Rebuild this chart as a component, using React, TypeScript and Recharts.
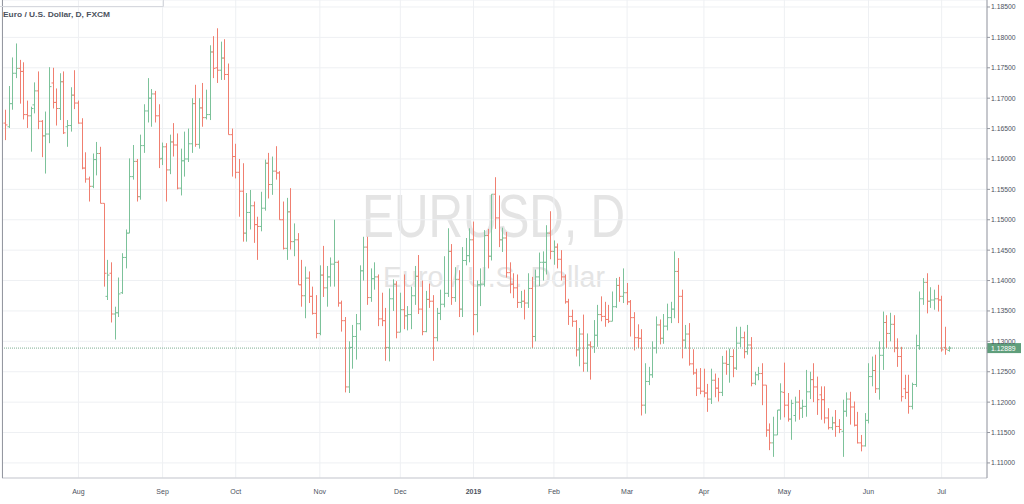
import React from 'react';
import { ComposedChart, Bar, XAxis, YAxis, CartesianGrid, ReferenceLine } from 'recharts';

// EUR/USD daily bars (FXCM), one array per month: [open, high, low, close]
const jul2018 = [
  [1.1659, 1.1681, 1.1631, 1.1656], [1.1653, 1.1720, 1.1651, 1.1691], [1.1691, 1.1767, 1.1681, 1.1741],
  [1.1741, 1.1790, 1.1733, 1.1749], [1.1749, 1.1763, 1.1691, 1.1744], [1.1744, 1.1759, 1.1665, 1.1673],
  [1.1673, 1.1696, 1.1651, 1.1671], [1.1671, 1.1686, 1.1612, 1.1683], [1.1689, 1.1726, 1.1675, 1.1712],
  [1.1712, 1.1744, 1.1649, 1.1662], [1.1662, 1.1664, 1.1603, 1.1638], [1.1638, 1.1678, 1.1576, 1.1641],
  [1.1641, 1.1751, 1.1626, 1.1719], [1.1725, 1.1750, 1.1683, 1.1693], [1.1693, 1.1716, 1.1655, 1.1683],
  [1.1683, 1.1741, 1.1664, 1.1727], [1.1727, 1.1744, 1.1641, 1.1643], [1.1653, 1.1664, 1.1620, 1.1655],
  [1.1655, 1.1718, 1.1645, 1.1705], [1.1705, 1.1746, 1.1682, 1.1692],
];
const aug2018 = [
  [1.1692, 1.1696, 1.1658, 1.1659], [1.1659, 1.1667, 1.1583, 1.1585], [1.1585, 1.1611, 1.1561, 1.1567],
  [1.1567, 1.1571, 1.1530, 1.1555], [1.1555, 1.1609, 1.1552, 1.1599], [1.1599, 1.1628, 1.1573, 1.1609],
  [1.1609, 1.1620, 1.1527, 1.1527], [1.1527, 1.1527, 1.1390, 1.1412], [1.1374, 1.1434, 1.1368, 1.1409],
  [1.1412, 1.1430, 1.1331, 1.1345], [1.1345, 1.1357, 1.1303, 1.1347], [1.1347, 1.1405, 1.1340, 1.1378],
  [1.1380, 1.1445, 1.1378, 1.1438], [1.1438, 1.1484, 1.1420, 1.1478], [1.1478, 1.1601, 1.1478, 1.1571],
  [1.1571, 1.1623, 1.1566, 1.1596], [1.1596, 1.1600, 1.1530, 1.1538], [1.1538, 1.1640, 1.1533, 1.1622],
  [1.1622, 1.1690, 1.1610, 1.1679], [1.1679, 1.1733, 1.1660, 1.1700], [1.1700, 1.1715, 1.1653, 1.1707],
  [1.1707, 1.1712, 1.1660, 1.1671], [1.1671, 1.1690, 1.1585, 1.1600],
];
const sep2018 = [
  [1.1601, 1.1627, 1.1590, 1.1620], [1.1620, 1.1626, 1.1530, 1.1582], [1.1582, 1.1640, 1.1575, 1.1628],
  [1.1628, 1.1659, 1.1604, 1.1623], [1.1623, 1.1642, 1.1550, 1.1552], [1.1552, 1.1617, 1.1540, 1.1597],
  [1.1597, 1.1645, 1.1571, 1.1600], [1.1600, 1.1650, 1.1595, 1.1625], [1.1625, 1.1700, 1.1610, 1.1691],
  [1.1691, 1.1722, 1.1620, 1.1624], [1.1624, 1.1700, 1.1617, 1.1684], [1.1684, 1.1725, 1.1653, 1.1668],
  [1.1668, 1.1714, 1.1665, 1.1673], [1.1673, 1.1787, 1.1664, 1.1776], [1.1776, 1.1802, 1.1733, 1.1749],
  [1.1750, 1.1815, 1.1725, 1.1746], [1.1746, 1.1793, 1.1730, 1.1766], [1.1766, 1.1797, 1.1730, 1.1739],
  [1.1739, 1.1757, 1.1640, 1.1640], [1.1640, 1.1650, 1.1571, 1.1604],
];
const oct2018 = [
  [1.1604, 1.1625, 1.1568, 1.1578], [1.1578, 1.1600, 1.1505, 1.1547], [1.1547, 1.1593, 1.1464, 1.1478],
  [1.1478, 1.1544, 1.1464, 1.1512], [1.1512, 1.1549, 1.1484, 1.1523], [1.1523, 1.1530, 1.1462, 1.1492],
  [1.1492, 1.1505, 1.1434, 1.1489], [1.1489, 1.1546, 1.1481, 1.1519], [1.1519, 1.1599, 1.1515, 1.1593],
  [1.1593, 1.1610, 1.1535, 1.1558], [1.1558, 1.1604, 1.1541, 1.1580], [1.1580, 1.1621, 1.1566, 1.1577],
  [1.1577, 1.1580, 1.1500, 1.1500], [1.1500, 1.1530, 1.1451, 1.1453], [1.1453, 1.1536, 1.1434, 1.1513],
  [1.1513, 1.1552, 1.1451, 1.1464], [1.1464, 1.1494, 1.1440, 1.1467], [1.1467, 1.1478, 1.1393, 1.1393],
  [1.1393, 1.1434, 1.1357, 1.1375], [1.1375, 1.1423, 1.1338, 1.1404], [1.1404, 1.1415, 1.1363, 1.1374],
  [1.1374, 1.1390, 1.1344, 1.1346], [1.1346, 1.1376, 1.1305, 1.1313],
];
const nov2018 = [
  [1.1313, 1.1425, 1.1310, 1.1409], [1.1409, 1.1457, 1.1373, 1.1388], [1.1388, 1.1424, 1.1357, 1.1406],
  [1.1406, 1.1438, 1.1390, 1.1427], [1.1427, 1.1500, 1.1390, 1.1430], [1.1430, 1.1433, 1.1357, 1.1363],
  [1.1363, 1.1367, 1.1316, 1.1334], [1.1334, 1.1340, 1.1216, 1.1225], [1.1225, 1.1300, 1.1215, 1.1290],
  [1.1290, 1.1327, 1.1255, 1.1308], [1.1308, 1.1345, 1.1270, 1.1329], [1.1329, 1.1425, 1.1318, 1.1416],
  [1.1416, 1.1472, 1.1400, 1.1455], [1.1455, 1.1472, 1.1360, 1.1372], [1.1372, 1.1420, 1.1365, 1.1403],
  [1.1403, 1.1430, 1.1385, 1.1406], [1.1406, 1.1410, 1.1325, 1.1337], [1.1337, 1.1380, 1.1325, 1.1334],
  [1.1334, 1.1355, 1.1268, 1.1290], [1.1290, 1.1387, 1.1267, 1.1370], [1.1370, 1.1402, 1.1350, 1.1394],
  [1.1394, 1.1399, 1.1305, 1.1315],
];
const dec2018 = [
  [1.1315, 1.1380, 1.1315, 1.1352], [1.1352, 1.1410, 1.1320, 1.1342], [1.1342, 1.1358, 1.1318, 1.1344],
  [1.1344, 1.1390, 1.1320, 1.1375], [1.1375, 1.1424, 1.1360, 1.1407], [1.1407, 1.1442, 1.1345, 1.1353],
  [1.1353, 1.1400, 1.1310, 1.1316], [1.1316, 1.1383, 1.1315, 1.1369], [1.1369, 1.1395, 1.1355, 1.1366],
  [1.1366, 1.1376, 1.1268, 1.1306], [1.1306, 1.1355, 1.1300, 1.1346], [1.1346, 1.1385, 1.1335, 1.1361],
  [1.1361, 1.1440, 1.1356, 1.1379], [1.1379, 1.1486, 1.1373, 1.1448], [1.1448, 1.1460, 1.1360, 1.1372],
  [1.1372, 1.1422, 1.1365, 1.1402], [1.1402, 1.1417, 1.1340, 1.1353], [1.1353, 1.1455, 1.1340, 1.1433],
  [1.1433, 1.1470, 1.1425, 1.1441], [1.1441, 1.1486, 1.1430, 1.1467],
];
const jan2019 = [
  [1.1467, 1.1497, 1.1310, 1.1344], [1.1344, 1.1400, 1.1315, 1.1393], [1.1393, 1.1420, 1.1358, 1.1394],
  [1.1394, 1.1483, 1.1390, 1.1474], [1.1474, 1.1485, 1.1420, 1.1440], [1.1440, 1.1542, 1.1433, 1.1542],
  [1.1542, 1.1570, 1.1485, 1.1503], [1.1503, 1.1540, 1.1455, 1.1467], [1.1467, 1.1487, 1.1447, 1.1470],
  [1.1470, 1.1480, 1.1405, 1.1413], [1.1413, 1.1430, 1.1379, 1.1394], [1.1394, 1.1412, 1.1371, 1.1388],
  [1.1388, 1.1410, 1.1355, 1.1364], [1.1364, 1.1383, 1.1355, 1.1366], [1.1366, 1.1385, 1.1336, 1.1363],
  [1.1363, 1.1412, 1.1355, 1.1387], [1.1387, 1.1406, 1.1289, 1.1308], [1.1308, 1.1418, 1.1300, 1.1406],
  [1.1406, 1.1446, 1.1391, 1.1430], [1.1430, 1.1448, 1.1400, 1.1430], [1.1430, 1.1491, 1.1410, 1.1478],
  [1.1478, 1.1514, 1.1435, 1.1448],
];
const feb2019 = [
  [1.1448, 1.1466, 1.1426, 1.1455], [1.1455, 1.1461, 1.1420, 1.1435], [1.1435, 1.1450, 1.1400, 1.1406],
  [1.1406, 1.1410, 1.1362, 1.1365], [1.1365, 1.1370, 1.1327, 1.1341], [1.1341, 1.1352, 1.1324, 1.1333],
  [1.1333, 1.1335, 1.1275, 1.1286], [1.1286, 1.1322, 1.1259, 1.1312], [1.1312, 1.1344, 1.1250, 1.1264],
  [1.1264, 1.1313, 1.1250, 1.1294], [1.1294, 1.1300, 1.1237, 1.1291], [1.1291, 1.1335, 1.1281, 1.1310],
  [1.1310, 1.1360, 1.1291, 1.1344], [1.1344, 1.1374, 1.1333, 1.1341], [1.1341, 1.1365, 1.1324, 1.1336],
  [1.1336, 1.1360, 1.1330, 1.1333], [1.1333, 1.1382, 1.1333, 1.1357], [1.1357, 1.1404, 1.1355, 1.1392],
  [1.1392, 1.1406, 1.1365, 1.1374], [1.1374, 1.1420, 1.1363, 1.1380],
];
const mar2019 = [
  [1.1380, 1.1396, 1.1360, 1.1365], [1.1365, 1.1368, 1.1308, 1.1339], [1.1339, 1.1348, 1.1285, 1.1306],
  [1.1306, 1.1328, 1.1289, 1.1305], [1.1305, 1.1320, 1.1178, 1.1195], [1.1195, 1.1264, 1.1181, 1.1234],
  [1.1234, 1.1258, 1.1228, 1.1245], [1.1245, 1.1300, 1.1240, 1.1289], [1.1289, 1.1341, 1.1280, 1.1327],
  [1.1327, 1.1336, 1.1295, 1.1305], [1.1305, 1.1345, 1.1296, 1.1325], [1.1325, 1.1362, 1.1318, 1.1339],
  [1.1339, 1.1365, 1.1330, 1.1353], [1.1353, 1.1448, 1.1338, 1.1415], [1.1415, 1.1437, 1.1330, 1.1374],
  [1.1374, 1.1385, 1.1272, 1.1302], [1.1302, 1.1327, 1.1288, 1.1312], [1.1312, 1.1330, 1.1260, 1.1263],
  [1.1263, 1.1287, 1.1245, 1.1248], [1.1248, 1.1255, 1.1210, 1.1223], [1.1223, 1.1256, 1.1213, 1.1218],
];
const apr2019 = [
  [1.1218, 1.1255, 1.1208, 1.1215], [1.1215, 1.1230, 1.1184, 1.1205], [1.1205, 1.1255, 1.1197, 1.1236],
  [1.1236, 1.1247, 1.1208, 1.1223], [1.1223, 1.1240, 1.1201, 1.1216], [1.1216, 1.1276, 1.1210, 1.1264],
  [1.1264, 1.1285, 1.1245, 1.1262], [1.1262, 1.1288, 1.1232, 1.1275], [1.1275, 1.1287, 1.1241, 1.1256],
  [1.1256, 1.1324, 1.1253, 1.1297], [1.1297, 1.1324, 1.1290, 1.1306], [1.1306, 1.1316, 1.1272, 1.1283],
  [1.1283, 1.1327, 1.1278, 1.1294], [1.1294, 1.1307, 1.1226, 1.1231], [1.1231, 1.1250, 1.1228, 1.1245],
  [1.1245, 1.1258, 1.1236, 1.1247], [1.1247, 1.1264, 1.1195, 1.1228], [1.1228, 1.1228, 1.1143, 1.1154],
  [1.1154, 1.1165, 1.1121, 1.1133], [1.1133, 1.1176, 1.1110, 1.1146], [1.1146, 1.1187, 1.1146, 1.1187],
  [1.1187, 1.1231, 1.1171, 1.1217],
];
const may2019 = [
  [1.1216, 1.1265, 1.1175, 1.1195], [1.1195, 1.1215, 1.1168, 1.1172], [1.1172, 1.1204, 1.1138, 1.1198],
  [1.1178, 1.1209, 1.1168, 1.1200], [1.1200, 1.1220, 1.1171, 1.1190], [1.1190, 1.1204, 1.1174, 1.1193],
  [1.1193, 1.1253, 1.1176, 1.1217], [1.1217, 1.1250, 1.1205, 1.1237], [1.1237, 1.1264, 1.1200, 1.1225],
  [1.1225, 1.1242, 1.1179, 1.1204], [1.1212, 1.1226, 1.1171, 1.1204], [1.1204, 1.1226, 1.1165, 1.1174],
  [1.1174, 1.1190, 1.1155, 1.1158], [1.1158, 1.1176, 1.1154, 1.1166], [1.1166, 1.1187, 1.1143, 1.1160],
  [1.1160, 1.1172, 1.1149, 1.1155], [1.1152, 1.1204, 1.1110, 1.1185], [1.1185, 1.1216, 1.1176, 1.1205],
  [1.1205, 1.1217, 1.1163, 1.1192], [1.1192, 1.1201, 1.1160, 1.1162], [1.1162, 1.1184, 1.1132, 1.1133],
  [1.1133, 1.1146, 1.1119, 1.1128], [1.1128, 1.1182, 1.1127, 1.1170],
];
const jun2019 = [
  [1.1170, 1.1264, 1.1165, 1.1242], [1.1242, 1.1275, 1.1226, 1.1252], [1.1252, 1.1278, 1.1215, 1.1222],
  [1.1222, 1.1300, 1.1204, 1.1277], [1.1277, 1.1349, 1.1253, 1.1331], [1.1331, 1.1343, 1.1289, 1.1313],
  [1.1313, 1.1347, 1.1300, 1.1328], [1.1328, 1.1343, 1.1282, 1.1289], [1.1289, 1.1305, 1.1258, 1.1275],
  [1.1275, 1.1291, 1.1201, 1.1209], [1.1222, 1.1245, 1.1205, 1.1216], [1.1216, 1.1245, 1.1181, 1.1193],
  [1.1193, 1.1232, 1.1188, 1.1229], [1.1229, 1.1311, 1.1225, 1.1293], [1.1293, 1.1382, 1.1286, 1.1370],
  [1.1370, 1.1404, 1.1360, 1.1397], [1.1397, 1.1412, 1.1346, 1.1366], [1.1366, 1.1389, 1.1355, 1.1368],
  [1.1368, 1.1385, 1.1352, 1.1370], [1.1370, 1.1393, 1.1349, 1.1368],
];
const jul2019 = [
  [1.1368, 1.1375, 1.1283, 1.1286], [1.1290, 1.1324, 1.1278, 1.1287], [1.1285, 1.1292, 1.1283, 1.12889],
];

const monthBars = [jul2018, aug2018, sep2018, oct2018, nov2018, dec2018, jan2019, feb2019, mar2019, apr2019, may2019, jun2019, jul2019];
// label under the first bar of every month after the first one
const monthLabels = ['Aug', 'Sep', 'Oct', 'Nov', 'Dec', '2019', 'Feb', 'Mar', 'Apr', 'May', 'Jun', 'Jul'];
const priceTicks = [1.11, 1.115, 1.12, 1.125, 1.13, 1.135, 1.14, 1.145, 1.15, 1.155, 1.16, 1.165, 1.17, 1.175, 1.18, 1.185];
const lastPrice = 1.12889;

const UP = '#7cc29a';
const DOWN = '#f07f70';
const TEXT = '#4c525e';

const data = monthBars.flat().map(([o, h, l, c], i) => ({ i, o, h, l, c, range: [l, h] }));

const monthStarts: number[] = [];
monthBars.reduce((n, m, k) => {
  if (k > 0) monthStarts.push(n);
  return n + m.length;
}, 0);

const OhlcBar = (props: any) => {
  const { x, y, width, height, payload } = props;
  const { o, h, l, c } = payload;
  const top = Math.min(y, y + height);
  const len = Math.abs(height);
  const cx = Math.round(x + width / 2) + 0.5;
  const py = (v: number) => (h === l ? top : top + ((h - v) / (h - l)) * len);
  const color = c >= o ? UP : DOWN;
  return (
    <g stroke={color} strokeWidth={1}>
      <line x1={cx} x2={cx} y1={top} y2={top + Math.max(len, 1)} />
      <line x1={cx - 2} x2={cx} y1={py(o)} y2={py(o)} />
      <line x1={cx} x2={cx + 2} y1={py(c)} y2={py(c)} />
    </g>
  );
};

const TimeTick = ({ x, y, payload }: any) => {
  const text = monthLabels[monthStarts.indexOf(payload.value)] ?? '';
  return (
    <text x={x} y={y + 16} textAnchor="middle" fontSize={7} fill={TEXT} fontWeight={text === '2019' ? 700 : 400}>
      {text}
    </text>
  );
};

const PriceTag = ({ viewBox }: any) => {
  const x = viewBox.x + viewBox.width;
  const y = viewBox.y;
  return (
    <g>
      <rect x={x} y={y - 5} width={34} height={10} fill="#5f9e7b" />
      <text x={x + 4} y={y + 2.5} fontSize={6.8} fill="#ffffff">{lastPrice.toFixed(5)}</text>
    </g>
  );
};

export default function App() {
  return (
    <div style={{ position: 'absolute', left: 0, top: 0, width: 1024, height: 504, background: '#fff', fontFamily: '"Liberation Sans", Arial, sans-serif' }}>
      <svg width={1024} height={504} style={{ position: 'absolute', left: 0, top: 0 }}>
        <text x={362} y={237} fontSize={61} fill="#e4e4e4" textLength={263} lengthAdjust="spacingAndGlyphs">EURUSD, D</text>
        <text x={383} y={287} fontSize={29} fill="#e4e4e4" textLength={222} lengthAdjust="spacingAndGlyphs">Euro / U.S. Dollar</text>
      </svg>
      <div style={{ position: 'absolute', left: 0, top: 0 }}>
        <ComposedChart width={1024} height={504} data={data} margin={{ top: 0, right: 0, bottom: 0, left: 2 }}>
          <CartesianGrid stroke="#eef0f3" />
          <XAxis
            dataKey="i"
            type="number"
            domain={[-0.9, 268.4]}
            allowDataOverflow
            ticks={monthStarts}
            interval={0}
            height={26}
            tickLine={false}
            tickSize={0}
            tickMargin={0}
            axisLine={{ stroke: '#c9cbd1' }}
            tick={<TimeTick />}
          />
          <YAxis
            orientation="right"
            width={37}
            domain={[1.10752, 1.18615]}
            allowDataOverflow
            ticks={priceTicks}
            interval={0}
            tickSize={3}
            tickMargin={1}
            tickLine={{ stroke: '#9598a1' }}
            axisLine={{ stroke: '#9598a1' }}
            tick={{ fontSize: 6.8, fill: TEXT }}
            tickFormatter={(v: number) => v.toFixed(5)}
          />
          <Bar dataKey="range" barSize={3} shape={<OhlcBar />} isAnimationActive={false} />
          <ReferenceLine y={lastPrice} stroke="#7fae93" strokeDasharray="1 1" label={<PriceTag />} />
        </ComposedChart>
      </div>
      <svg width={1024} height={504} style={{ position: 'absolute', left: 0, top: 0, pointerEvents: 'none' }}>
        <line x1={2.5} x2={2.5} y1={0} y2={478} stroke="#9598a1" />
        <polyline points="0,6.5 163.5,6.5 163.5,0" fill="none" stroke="#d6d8de" />
        <text x={3} y={17} fontSize={7} fontWeight={600} fill={TEXT} textLength={107} lengthAdjust="spacingAndGlyphs">
          Euro / U.S. Dollar, D, FXCM
        </text>
      </svg>
    </div>
  );
}
